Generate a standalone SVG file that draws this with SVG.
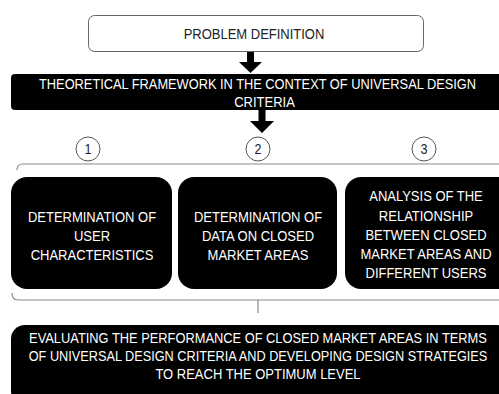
<svg xmlns="http://www.w3.org/2000/svg" width="499" height="394" viewBox="0 0 499 394">
<defs>
<style>
.t{font-family:"Liberation Sans",Arial,sans-serif;font-size:15px;text-anchor:middle}
.n{font-family:"Liberation Sans",Arial,sans-serif;font-size:14px;text-anchor:middle;fill:#222}
.w{fill:#fff}
.k{fill:#222}
.blk{fill:#000}
.br{fill:none;stroke:#8a8a8a;stroke-width:1.2}
.num{fill:#fff;stroke:#555;stroke-width:1}
</style>
</defs>
<rect width="499" height="394" fill="#fff"/>
<g id="problem">
<rect x="88.5" y="15.5" width="335" height="36" rx="6" fill="#fff" stroke="#666" stroke-width="1"/>
<text class="t k" transform="translate(254,38.5) scale(0.867,1)">PROBLEM DEFINITION</text>
</g>
<g id="framework">
<rect class="blk" x="11" y="74" width="500" height="36" rx="4"/>
<text class="t w" transform="translate(257.5,88.5) scale(0.867,1)" textLength="504" lengthAdjust="spacingAndGlyphs">THEORETICAL FRAMEWORK IN THE CONTEXT OF UNIVERSAL DESIGN</text>
<text class="t w" transform="translate(264.5,107) scale(0.867,1)">CRITERIA</text>
</g>
<g id="num1"><circle class="num" cx="88" cy="149" r="12"/><text class="n" transform="translate(88,154) scale(0.9,1)">1</text></g>
<g id="num2"><circle class="num" cx="258" cy="149" r="12"/><text class="n" transform="translate(258,154) scale(0.9,1)">2</text></g>
<g id="num3"><circle class="num" cx="424" cy="149" r="12"/><text class="n" transform="translate(424,154) scale(0.9,1)">3</text></g>
<g id="box1">
<rect class="blk" x="11" y="177" width="161" height="112" rx="16"/>
<text class="t w" transform="translate(92,222) scale(0.867,1)">DETERMINATION OF</text>
<text class="t w" transform="translate(92,241) scale(0.867,1)">USER</text>
<text class="t w" transform="translate(92,260) scale(0.867,1)">CHARACTERISTICS</text>
</g>
<g id="box2">
<rect class="blk" x="178" y="177" width="159" height="112" rx="16"/>
<text class="t w" transform="translate(258,222) scale(0.867,1)">DETERMINATION OF</text>
<text class="t w" transform="translate(258,241) scale(0.867,1)">DATA ON CLOSED</text>
<text class="t w" transform="translate(258,260) scale(0.867,1)">MARKET AREAS</text>
</g>
<g id="box3">
<rect class="blk" x="345" y="177" width="170" height="112" rx="16"/>
<text class="t w" transform="translate(426,201) scale(0.867,1)">ANALYSIS OF THE</text>
<text class="t w" transform="translate(426,221) scale(0.867,1)">RELATIONSHIP</text>
<text class="t w" transform="translate(426,240) scale(0.867,1)">BETWEEN CLOSED</text>
<text class="t w" transform="translate(426,259) scale(0.867,1)">MARKET AREAS AND</text>
<text class="t w" transform="translate(426,278) scale(0.867,1)">DIFFERENT USERS</text>
</g>
<g id="result">
<rect class="blk" x="11" y="325" width="500" height="80" rx="14"/>
<text class="t w" transform="translate(258,343) scale(0.867,1)" textLength="528" lengthAdjust="spacingAndGlyphs">EVALUATING THE PERFORMANCE OF CLOSED MARKET AREAS IN TERMS</text>
<text class="t w" transform="translate(258,361) scale(0.867,1)" textLength="529" lengthAdjust="spacingAndGlyphs">OF UNIVERSAL DESIGN CRITERIA AND DEVELOPING DESIGN STRATEGIES</text>
<text class="t w" transform="translate(258,379) scale(0.867,1)">TO REACH THE OPTIMUM LEVEL</text>
</g>
<g id="connectors">
<polygon class="blk" points="247,52 254,52 254,62 262,62 250.5,73 239,62 247,62"/>
<polygon class="blk" points="258.5,110 265.5,110 265.5,121 274,121 262,133 250,121 258.5,121"/>
<path class="br" d="M17,170 Q17,164 23,164 L499,164"/>
<path class="br" d="M12,293 Q12,300 18,300 L499,300 M258,300 L258,313"/>
</g>
</svg>
